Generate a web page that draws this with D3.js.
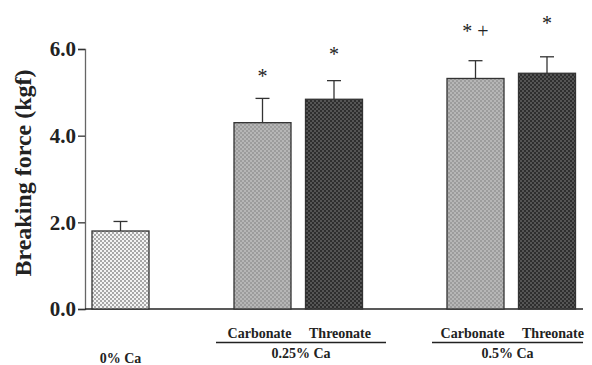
<!DOCTYPE html>
<html lang="en">
<head>
<meta charset="UTF-8">
<title>Breaking force</title>
<style>
  body { margin: 0; background: #fff; }
  text { font-family: "Liberation Serif", "Times New Roman", serif; fill: #222; }
  .tick text { font-size: 21px; font-weight: bold; }
  .grp { font-size: 14px; font-weight: bold; }
  .mark { font-size: 20px; }
</style>
</head>
<body>
<svg id="chart" width="592" height="365"></svg>
<script src="https://cdn.jsdelivr.net/npm/d3@7"></script>
<script>
// data
var groups = ["0% Ca", "0.25% Ca", "0.5% Ca"];
var bars = ["0% Ca", "Carbonate 0.25", "Threonate 0.25", "Carbonate 0.5", "Threonate 0.5"];
var means = [1.80, 4.30, 4.84, 5.32, 5.44];
var errors = [0.22, 0.56, 0.43, 0.41, 0.38];
var marks = ["", "*", "*", "* +", "*"];
var markLevels = [0, 5.46, 5.96, 6.49, 6.69];
var fills = ["pat0", "pat1", "pat2", "pat1", "pat2"];
var yTicks = [0, 2, 4, 6];

var svg = d3.select("#chart");

// fill patterns
var defs = svg.append("defs");
function pattern(id, bg, fg) {
  var p = defs.append("pattern").attr("id", id)
    .attr("width", 4).attr("height", 4).attr("patternUnits", "userSpaceOnUse");
  p.append("rect").attr("width", 4).attr("height", 4).attr("fill", bg);
  p.append("rect").attr("width", 2).attr("height", 2).attr("fill", fg);
  p.append("rect").attr("x", 2).attr("y", 2).attr("width", 2).attr("height", 2).attr("fill", fg);
}
pattern("pat0", "#f4f4f4", "#a8a8a8");
pattern("pat1", "#b6b6b6", "#9c9c9c");
pattern("pat2", "#2e2e2e", "#555");

var y = d3.scaleLinear().domain([0, 6]).range([309, 49]);
var x = d3.scaleOrdinal().domain(bars).range([120.5, 262.5, 334, 475.5, 547]);
var bw = 57;

// y axis
var yAxis = svg.append("g").attr("transform", "translate(85,0)")
  .call(d3.axisLeft(y).tickValues(yTicks).tickFormat(d3.format(".1f")).tickSize(7).tickPadding(2));
yAxis.select(".domain").attr("stroke", "#666").attr("stroke-width", 1.3);
yAxis.selectAll(".tick line").attr("stroke", "#333").attr("stroke-width", 1.3);
yAxis.selectAll(".tick text").attr("fill", "#222");

// baseline
svg.append("line").attr("x1", 85).attr("x2", 583)
  .attr("y1", y(0)).attr("y2", y(0)).attr("stroke", "#222").attr("stroke-width", 1.5);

// bars
var b = svg.selectAll(".bar").data(bars).enter().append("g");
b.append("line")
  .attr("x1", function (d) { return x(d); }).attr("x2", function (d) { return x(d); })
  .attr("y1", function (d, i) { return y(means[i]); })
  .attr("y2", function (d, i) { return y(means[i] + errors[i]); })
  .attr("stroke", "#333").attr("stroke-width", 1.3);
b.append("line")
  .attr("x1", function (d) { return x(d) - 7; }).attr("x2", function (d) { return x(d) + 7; })
  .attr("y1", function (d, i) { return y(means[i] + errors[i]); })
  .attr("y2", function (d, i) { return y(means[i] + errors[i]); })
  .attr("stroke", "#333").attr("stroke-width", 1.3);
b.append("rect")
  .attr("x", function (d) { return x(d) - bw / 2; })
  .attr("width", bw)
  .attr("y", function (d, i) { return y(means[i]); })
  .attr("height", function (d, i) { return y(0) - y(means[i]); })
  .attr("fill", function (d, i) { return "url(#" + fills[i] + ")"; })
  .attr("stroke", "#333").attr("stroke-width", 1.3);

// significance marks
b.append("text").attr("class", "mark")
  .attr("x", function (d) { return x(d); })
  .attr("y", function (d, i) { return y(markLevels[i]) + 10.5; })
  .attr("text-anchor", "middle")
  .text(function (d, i) { return marks[i]; });

// y label
svg.append("text")
  .attr("transform", "translate(31,173) rotate(-90)")
  .attr("text-anchor", "middle")
  .style("font-size", "24px").style("font-weight", "bold")
  .text("Breaking force (kgf)");

// group labels
svg.append("text").attr("class", "grp").attr("x", x(bars[0])).attr("y", 363)
  .attr("text-anchor", "middle").text(groups[0]);
[[1, 2, 216, 386], [3, 4, 432, 583]].forEach(function (g, k) {
  svg.append("text").attr("class", "grp").attr("x", x(bars[g[0]]) - 3).attr("y", 338)
    .attr("text-anchor", "middle").text("Carbonate");
  svg.append("text").attr("class", "grp").attr("x", x(bars[g[1]]) + 6).attr("y", 338)
    .attr("text-anchor", "middle").text("Threonate");
  svg.append("line").attr("x1", g[2]).attr("x2", g[3]).attr("y1", 342.5).attr("y2", 342.5)
    .attr("stroke", "#222").attr("stroke-width", 1.5);
  svg.append("text").attr("class", "grp").attr("x", (g[2] + g[3]) / 2).attr("y", 358)
    .attr("text-anchor", "middle").text(groups[k + 1]);
});
</script>
</body>
</html>
